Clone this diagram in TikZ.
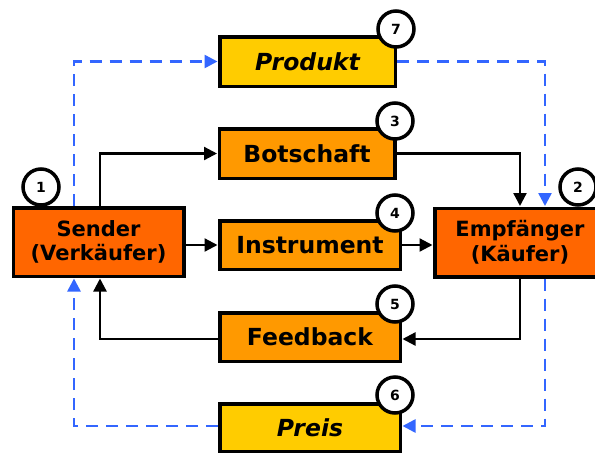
\documentclass[tikz,border=0pt]{standalone}
\usepackage{fontspec}
\setmainfont{DejaVu Sans}
\usetikzlibrary{arrows.meta}
\definecolor{cyel}{HTML}{FFCC00}
\definecolor{corg}{HTML}{FF9900}
\definecolor{cred}{HTML}{FF6600}
\definecolor{cblue}{HTML}{3366FF}
\begin{document}
\begin{tikzpicture}[x=1pt,y=-1pt,
  box/.style={draw=black, line width=3.5pt, minimum width=180.5pt, minimum height=48.5pt, inner sep=0pt,
    font=\fontsize{23.5}{24}\selectfont\bfseries},
  narrowbox/.style={box, minimum width=175.5pt, minimum height=49.5pt},
  mainbox/.style={draw=black, line width=3.5pt, fill=cred, minimum width=170.5pt, minimum height=68.5pt, inner sep=0pt,
    align=center, font=\fontsize{21}{24.5}\selectfont\bfseries},
  num/.style={circle, draw=black, fill=white, line width=3.5pt, minimum size=36pt, inner sep=0pt,
    font=\fontsize{14}{15}\selectfont\bfseries},
  conn/.style={draw=black, line width=2.3pt, -{Triangle[length=13pt,width=13pt]}, shorten >=0.5pt},
  bconn/.style={draw=cblue, line width=2.5pt, dash pattern=on 12pt off 8pt, -{Triangle[length=13pt,width=13pt]}, shorten >=0.5pt}
]
\useasboundingbox (0,0) rectangle (595,456);
\clip (0,0) rectangle (595,456);

\node[narrowbox, fill=cyel] (produkt) at (307.5,61.5) {\itshape Produkt};
\node[narrowbox, fill=corg] (botschaft) at (307,153.5) {Botschaft};
\node[box, fill=corg] (instrument) at (310,245) {Instrument};
\node[box, fill=corg] (feedback) at (310,337) {Feedback};
\node[box, fill=cyel, minimum height=47.5pt] (preis) at (310,427.5) {\itshape Preis};
\node[mainbox] (sender) at (98.5,242) {Sender\\(Verkäufer)};
\node[mainbox] (empf) at (520,242.5) {Empfänger\\(Käufer)};

% black connectors
\draw[conn] ([xshift=1.5pt]sender.north) |- (botschaft.west);
\draw[conn] (botschaft.east) -| (empf.north);
\draw[conn] (sender.east |- instrument.west) -- (instrument.west);
\draw[conn] (instrument.east) -- (empf.west |- instrument.east);
\draw[conn] (empf.south) |- ([yshift=-2pt]feedback.east);
\draw[conn] ([yshift=-2pt]feedback.west) -| ([xshift=1.5pt]sender.south);

% blue dashed connectors
\draw[bconn] ([xshift=-24.5pt]sender.north) |- (produkt.west);
\draw[bconn] (produkt.east) -| ([xshift=25pt]empf.north);
\draw[bconn] ([xshift=25pt]empf.south) |- ([yshift=1.5pt]preis.east);
\draw[bconn] ([yshift=1.5pt]preis.west) -| ([xshift=-24.5pt]sender.south);

% number circles
\node[num] (n7) at (396,29) {7};
\node[num] (n3) at (395,121) {3};
\node[num] (n4) at (395,213) {4};
\node[num] (n5) at (395,304) {5};
\node[num] (n6) at (395,395) {6};
\node[num] (n1) at (41,187) {1};
\node[num] (n2) at (578,187) {2};
\end{tikzpicture}
\end{document}
